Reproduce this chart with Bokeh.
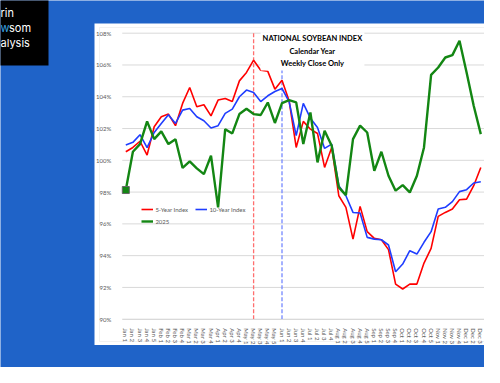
from bokeh.plotting import figure
from bokeh.models import (Range1d, BoxAnnotation, Label, Legend, LegendItem, FixedTicker,
                          PrintfTickFormatter, LinearAxis)
from bokeh.embed import file_html
from bokeh.resources import INLINE

# ---------------- data ----------------
weeks = ["Jan 1", "Jan 2", "Jan 3", "Jan 4", "Jan 5",
         "Feb 1", "Feb 2", "Feb 3", "Feb 4",
         "Mar 1", "Mar 2", "Mar 3", "Mar 4",
         "Apr 1", "Apr 2", "Apr 3", "Apr 4",
         "May 1", "May 2", "May 3", "May 4", "May 5",
         "Jun 1", "Jun 2", "Jun 3", "Jun 4",
         "Jul 1", "Jul 2", "Jul 3", "Jul 4",
         "Aug 1", "Aug 2", "Aug 3", "Aug 4", "Aug 5",
         "Sep 1", "Sep 2", "Sep 3", "Sep 4",
         "Oct 1", "Oct 2", "Oct 3", "Oct 4", "Oct 5",
         "Nov 1", "Nov 2", "Nov 3", "Nov 4",
         "Dec 1", "Dec 2", "Dec 3"]

five_year = [100.54, 100.81, 101.2, 100.33, 102.11,
             102.74, 102.91, 102.18, 103.58,
             104.58, 103.37, 103.5, 102.8,
             103.79, 103.89, 103.7, 105.0,
             105.53, 106.3, 105.67, 105.6, 104.48,
             105.04, 103.75, 100.81, 102.45,
             101.96, 101.69, 99.55, 100.81,
             97.77, 97.04, 95.04, 97.1, 95.51,
             95.09, 95.0, 94.38, 92.21,
             91.9, 92.21, 92.21, 93.53, 94.46,
             96.47, 96.72, 96.93, 97.52,
             97.56, 98.4, 99.55]

ten_year = [100.96, 101.13, 101.61, 100.8, 101.75,
            102.32, 102.87, 102.32, 103.16,
            103.26, 102.74, 102.49, 102.03,
            102.18, 102.95, 103.22, 104.0,
            104.42, 104.27, 103.7, 104.06, 104.33,
            104.52, 103.7, 101.55, 103.58,
            102.65, 102.07, 100.75, 101.02,
            98.4, 97.77, 96.72, 96.68, 95.15,
            95.04, 95.0, 94.67, 92.99,
            93.47, 94.31, 94.1, 94.84, 95.51,
            96.93, 97.04, 97.4, 98.03,
            98.15, 98.57, 98.65]

year_2025 = [98.13, 100.54, 101.02, 102.45, 101.33,
             101.82, 101.02, 101.33, 99.52,
             99.93, 99.49, 99.13, 100.29,
             97.04, 101.96, 101.69, 102.91,
             103.24, 102.91, 102.85, 103.64, 102.35,
             103.6, 103.79, 103.64, 101.02,
             103.01, 99.87, 101.86, 100.92,
             98.3, 97.81, 101.33, 102.18, 101.75,
             99.34, 100.54, 99.03, 98.09,
             98.44, 97.98, 99.03, 100.81, 105.38,
             105.84, 106.47, 106.62, 107.52,
             105.53, 103.43, 101.65]

y_ticks = [90, 92, 94, 96, 98, 100, 102, 104, 106, 108]
peak_5yr_week = "May 2"
peak_10yr_week = "Jun 1"
series_names = ["5-Year Index", "10-Year Index", "2025"]
title_text = "NATIONAL SOYBEAN INDEX\nCalendar Year\nWeekly Close Only"

# ---------------- geometry (figure pixels) ----------------
W, H = 484, 367
N = len(weeks)
YMIN, YMAX = y_ticks[0], y_ticks[-1]
X0_PX, DX = 125.3, 7.1          # pixel of first week, pixels per week
YTOP_PX, YBOT_PX = 32.7, 318.7  # pixels of YMAX and YMIN
DY = (YBOT_PX - YTOP_PX) / (YMAX - YMIN)

def px_x(fx):
    return (fx - X0_PX) / DX

def px_y(fy):
    return YMAX - (fy - YTOP_PX) / DY

BLUE_BG = "#1f63c8"
RED, BLUE, GREEN = "#ff0000", "#1f3dff", "#138613"
GRID = "#d9d9d9"
GRAY_TXT = "#595959"
FONT = "Lato"

p = figure(width=W, height=H, x_range=Range1d(px_x(0), px_x(W)),
           y_range=Range1d(px_y(H), px_y(0)), x_axis_type=None, y_axis_type=None,
           output_backend="svg", toolbar_location=None, min_border=0,
           min_border_left=0, min_border_right=0, min_border_top=0, min_border_bottom=0,
           background_fill_color=BLUE_BG, border_fill_color=BLUE_BG,
           outline_line_color=None)

# white panel and its inner frame line
p.add_layout(BoxAnnotation(left=px_x(94), right=px_x(W + 20), top=px_y(23), bottom=px_y(344.5),
                           fill_color="white", fill_alpha=1, line_color=None, level="image"))
p.add_layout(BoxAnnotation(left=px_x(99), right=px_x(W + 20), top=px_y(27), bottom=px_y(341),
                           fill_alpha=0, line_color="#d0d0d0", line_width=1, level="image"))

# logo box
p.add_layout(BoxAnnotation(left=px_x(-10), right=px_x(48), top=px_y(-10), bottom=px_y(65),
                           fill_color="black", fill_alpha=1, line_color=None, level="overlay"))
for txt, fx, fy, col in [("rin", 0, 12.7, "white"), ("w", 0, 27.7, "#3aa3e3"),
                         ("som", 8.5, 27.7, "white"), ("alysis", 0, 42.7, "white")]:
    p.add_layout(Label(x=px_x(fx), y=px_y(fy), text=txt, text_color=col, text_font="Inter",
                       text_font_size="11px", text_baseline="middle", text_align="left",
                       level="overlay"))

# horizontal gridlines of the plot area
x_lo, x_hi = -0.5, N - 0.5
p.segment(x0=[x_lo] * len(y_ticks), x1=[x_hi] * len(y_ticks), y0=y_ticks, y1=y_ticks,
          line_color=GRID, line_width=1, level="underlay")

# axes, fixed to the plot area
yaxis = LinearAxis(fixed_location=x_lo, bounds=(YMIN, YMAX), ticker=FixedTicker(ticks=y_ticks),
                   formatter=PrintfTickFormatter(format="%d%%"))
yaxis.axis_line_color = None
yaxis.major_tick_line_color = None
yaxis.minor_tick_line_color = None
yaxis.major_label_text_font_size = "6px"
yaxis.major_label_text_color = GRAY_TXT
yaxis.major_label_text_font = FONT
yaxis.major_label_standoff = 5
p.add_layout(yaxis, "left")

xaxis = LinearAxis(fixed_location=YMIN, bounds=(x_lo, x_hi),
                   ticker=FixedTicker(ticks=list(range(N))),
                   major_label_overrides={i: w for i, w in enumerate(weeks)})
xaxis.axis_line_color = GRID
xaxis.major_tick_line_color = None
xaxis.minor_tick_line_color = None
xaxis.major_label_orientation = "vertical"
xaxis.major_label_text_font_size = "6px"
xaxis.major_label_text_color = GRAY_TXT
xaxis.major_label_text_font = FONT
xaxis.major_label_standoff = 3
p.add_layout(xaxis, "below")

# peak week markers
for wk, col in [(peak_5yr_week, "#ff6f6f"), (peak_10yr_week, "#7387ff")]:
    k = weeks.index(wk)
    p.segment(x0=[k], x1=[k], y0=[YMIN], y1=[YMAX], line_color=col, line_dash="4 2",
              line_width=1.3, level="underlay")

# series
xs = list(range(N))
r5 = p.line(xs, five_year, line_color=RED, line_width=1.6)
r10 = p.line(xs, ten_year, line_color=BLUE, line_width=1.6)
rg = p.line(xs, year_2025, line_color=GREEN, line_width=2.4)
p.scatter([xs[0]], [year_2025[0]], marker="square", size=7, fill_color=GREEN,
          line_color="#666666", line_width=1)

legend = Legend(items=[LegendItem(label=series_names[0], renderers=[r5]),
                       LegendItem(label=series_names[1], renderers=[r10]),
                       LegendItem(label=series_names[2], renderers=[rg])],
                location=(141.4, 141.7), orientation="horizontal", ncols=2,
                glyph_width=12, glyph_height=8, label_height=8, label_width=36,
                label_standoff=2, spacing=4, padding=0, margin=0, border_line_color=None,
                background_fill_alpha=0, label_text_font_size="6px",
                label_text_color=GRAY_TXT, label_text_font=FONT)
p.add_layout(legend)

# title text box
p.add_layout(Label(x=px_x(312), y=px_y(50.8), text=title_text, text_align="center",
                   text_baseline="middle", text_font=FONT, text_font_style="bold",
                   text_font_size="7.5px", text_line_height=1.4, text_color="black",
                   background_fill_color="white", padding=2))

open("out.html", "w").write(file_html(p, INLINE))
